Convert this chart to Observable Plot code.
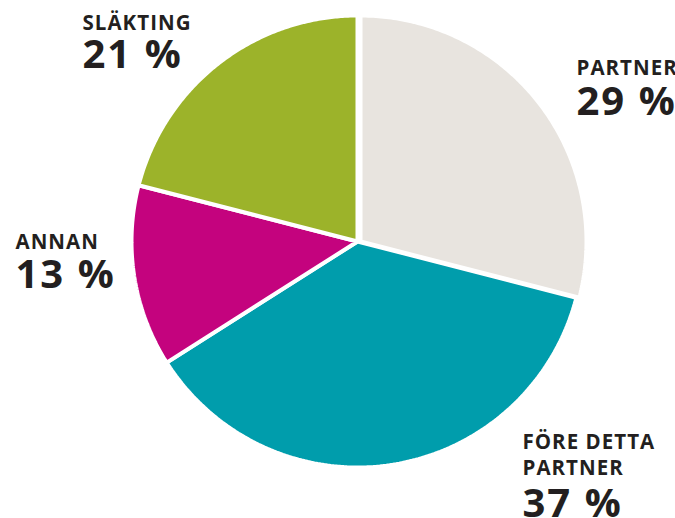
<!DOCTYPE html>
<html><head><meta charset="utf-8">
<script src="https://cdn.jsdelivr.net/npm/d3@7"></script>
<script src="https://cdn.jsdelivr.net/npm/@observablehq/plot@0.6"></script>
<style>body{margin:0;background:#fff} svg{display:block} svg text{letter-spacing:0.05em}</style>
</head><body><div id="chart"></div>
<script>
const categories = ["PARTNER", "FÖRE DETTA PARTNER", "ANNAN", "SLÄKTING"];
const nameLines = [["PARTNER"], ["FÖRE DETTA", "PARTNER"], ["ANNAN"], ["SLÄKTING"]];
const values = [29, 37, 13, 21];
const valueLabels = ["29 %", "37 %", "13 %", "21 %"];
const colors = ["#e8e4df", "#009dac", "#c4037e", "#9cb32a"];

const W = 675, H = 518, cx = 357, cy = 241, R = 226;
// label anchors (pixel top-left of first line cap)
const labelPos = [[576, 56], [522, 430], [15, 230], [82, 11]];
const valuePos = [86, 488, 259, 39];

const arcs = d3.pie().sort(null).value(d => d)(values);
const pts = [];
arcs.forEach((a, i) => {
  const n = 160;
  pts.push({cat: categories[i], x: 0, y: 0});
  for (let k = 0; k <= n; k++) {
    const t = a.startAngle + (a.endAngle - a.startAngle) * k / n;
    pts.push({cat: categories[i], x: Math.sin(t), y: Math.cos(t)});
  }
});

const textMarks = [];
categories.forEach((c, i) => {
  const [lx, ly] = labelPos[i];
  textMarks.push(Plot.text([nameLines[i].join("\n")], {
    frameAnchor: "top-left", dx: lx, dy: ly, textAnchor: "start", lineAnchor: "top",
    fontSize: 20.5, fontWeight: 700, lineHeight: 1.27, fill: "#231f20", text: d => d
  }));
  textMarks.push(Plot.text([valueLabels[i]], {
    frameAnchor: "top-left", dx: lx, dy: valuePos[i], textAnchor: "start", lineAnchor: "top",
    fontSize: 40, fontWeight: 700, fill: "#231f20", text: d => d
  }));
});

const common = {x: "x", y: "y", z: "cat", fill: "cat", stroke: "white", strokeWidth: 4, curve: "linear-closed", strokeLinejoin: "miter"};
const chart = Plot.plot({
  width: W, height: H, margin: 0,
  style: {fontFamily: "'Open Sans', sans-serif", background: "#fff"},
  x: {domain: [-cx / R, (W - cx) / R], range: [0, W], axis: null},
  y: {domain: [-(H - cy) / R, cy / R], range: [H, 0], axis: null},
  color: {domain: categories, range: colors},
  marks: [
    Plot.line(pts.filter(d => d.cat !== categories[0]), common),
    Plot.line(pts.filter(d => d.cat === categories[0]), {...common, dx: 3}),
    ...textMarks
  ]
});
document.getElementById("chart").appendChild(chart);
</script>
</body></html>
